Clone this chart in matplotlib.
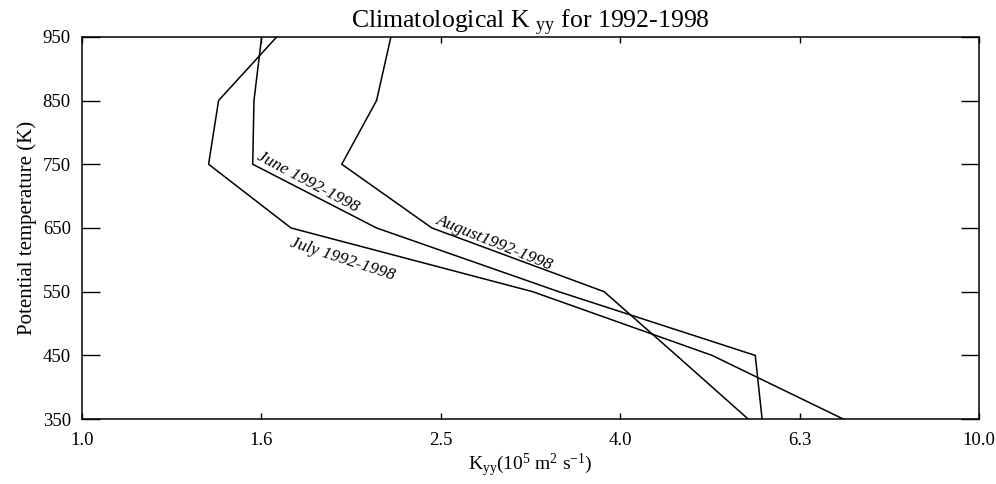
import numpy as np
import matplotlib
matplotlib.use("Agg")
import matplotlib.pyplot as plt

plt.rcParams['font.family'] = ['Liberation Serif', 'DejaVu Serif']
plt.rcParams['mathtext.default'] = 'regular'

# Potential temperature levels (K) and climatological Kyy (1e5 m2/s)
theta = [350, 450, 550, 650, 750, 850, 950]
kyy_june = [5.73, 5.63, 3.40, 2.13, 1.55, 1.555, 1.586]
kyy_july = [7.06, 5.04, 3.18, 1.71, 1.384, 1.42, 1.649]
kyy_august = [5.53, 4.60, 3.82, 2.455, 1.948, 2.13, 2.21]

xtick_vals = [1.0, 10**0.2, 10**0.4, 10**0.6, 10**0.8, 10.0]
xtick_labels = ['1.0', '1.6', '2.5', '4.0', '6.3', '10.0']
ytick_vals = [350, 450, 550, 650, 750, 850, 950]

fig = plt.figure(figsize=(9.96, 4.84), dpi=100)
ax = fig.add_axes([0.0823, 0.134, 0.9007, 0.790])

for k in (kyy_june, kyy_july, kyy_august):
    ax.plot(k, theta, color='black', lw=1.1)

ax.set_xscale('log')
ax.set_xlim(1.0, 10.0)
ax.set_ylim(350, 950)
ax.minorticks_off()

ax.set_xticks(xtick_vals)
ax.set_xticklabels(xtick_labels)
ax.set_yticks(ytick_vals)
ax.set_yticklabels([str(v) for v in ytick_vals])

ax.tick_params(axis='y', direction='in', length=13, width=1.0, left=True, right=True,
               labelsize=13.5, pad=8)
ax.tick_params(axis='x', direction='in', length=4.5, width=1.0, bottom=True, top=True,
               labelsize=13.5, pad=9)
for s in ax.spines.values():
    s.set_linewidth(1.1)

ax.set_title('Climatological K $_{yy}$ for 1992-1998', fontsize=18.5, pad=6)
ax.set_xlabel('K$_{yy}$(10$^5$ m$^2$ s$^{-1}$)', fontsize=14, labelpad=2)
ax.set_ylabel('Potential temperature (K)', fontsize=15, labelpad=4)

# curve labels placed along the lines
ax.text(1.555, 752, 'June 1992-1998', rotation=-28, fontsize=12.5, style='italic',
        ha='left', va='bottom', rotation_mode='anchor')
ax.text(1.72, 640, 'July 1992-1998', rotation=-18, fontsize=12.5, style='italic',
        ha='left', va='top', rotation_mode='anchor')
ax.text(2.47, 652, 'August1992-1998', rotation=-22, fontsize=12.5, style='italic',
        ha='left', va='bottom', rotation_mode='anchor')

fig.savefig('out.png', dpi=100)
